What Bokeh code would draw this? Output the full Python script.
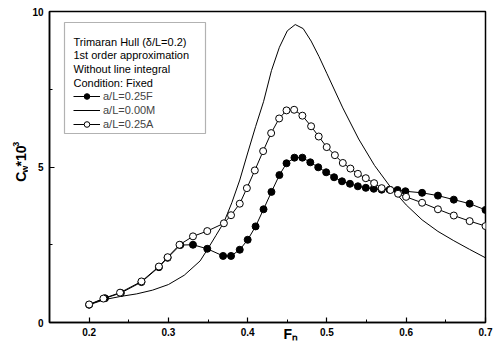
import math
from bokeh.plotting import figure
from bokeh.layouts import row
from bokeh.models import Label, Range1d, FixedTicker, BoxAnnotation, Legend, LegendItem
from bokeh.embed import file_html
from bokeh.resources import INLINE

# ---- data ----
f_x = [0.20, 0.22, 0.24, 0.266, 0.288, 0.299, 0.315, 0.331, 0.349, 0.369, 0.379, 0.390,
       0.400, 0.410, 0.420, 0.430, 0.440, 0.449, 0.459, 0.469, 0.479, 0.489, 0.499, 0.509,
       0.519, 0.529, 0.539, 0.549, 0.559, 0.569, 0.579, 0.589, 0.599, 0.62, 0.64, 0.66,
       0.68, 0.70]
f_y = [0.57, 0.78, 0.95, 1.30, 1.78, 2.08, 2.49, 2.50, 2.37, 2.14, 2.14, 2.34,
       2.66, 3.09, 3.64, 4.20, 4.74, 5.12, 5.30, 5.30, 5.15, 4.99, 4.83, 4.67,
       4.54, 4.46, 4.38, 4.33, 4.30, 4.27, 4.27, 4.26, 4.22, 4.17, 4.08, 3.95,
       3.82, 3.62]

m_x = [0.20, 0.22, 0.24, 0.26, 0.28, 0.30, 0.32, 0.34, 0.35, 0.36, 0.37, 0.38, 0.39,
       0.40, 0.41, 0.42, 0.43, 0.44, 0.45, 0.46, 0.47, 0.48, 0.49, 0.50, 0.52, 0.54,
       0.56, 0.58, 0.60, 0.62, 0.64, 0.66, 0.68, 0.70]
m_y = [0.57, 0.74, 0.84, 0.92, 1.04, 1.22, 1.52, 1.98, 2.38, 2.80, 3.22, 3.85, 4.58,
       5.45, 6.30, 7.10, 8.10, 8.85, 9.38, 9.58, 9.45, 9.05, 8.55, 8.00, 6.90, 5.90,
       5.05, 4.36, 3.78, 3.30, 2.93, 2.63, 2.35, 2.08]

a_x = [0.20, 0.218, 0.239, 0.266, 0.288, 0.299, 0.314, 0.331, 0.349, 0.370, 0.379, 0.390,
       0.399, 0.409, 0.4195, 0.4296, 0.4397, 0.449, 0.4586, 0.469, 0.480, 0.4896, 0.4997,
       0.510, 0.520, 0.5296, 0.539, 0.549, 0.5595, 0.569, 0.58, 0.5897, 0.5998, 0.62,
       0.64, 0.66, 0.68, 0.70]
a_y = [0.58, 0.77, 0.96, 1.32, 1.80, 2.10, 2.50, 2.77, 2.94, 3.19, 3.45, 3.82,
       4.32, 4.89, 5.51, 6.09, 6.56, 6.82, 6.84, 6.65, 6.31, 5.98, 5.64,
       5.38, 5.13, 4.95, 4.78, 4.64, 4.48, 4.32, 4.26, 4.14, 4.04, 3.85,
       3.64, 3.44, 3.26, 3.10]

x_ticks = [0.2, 0.3, 0.4, 0.5, 0.6, 0.7]
x_tick_labels = ["0.2", "0.3", "0.4", "0.5", "0.6", "0.7"]
x_minor = [0.25, 0.35, 0.45, 0.55, 0.65]
y_ticks = [0, 5, 10]
y_tick_labels = ["0", "5", "10"]
y_minor = [2.5, 7.5]

header_lines = ["Trimaran Hull (\u03b4/L=0.2)", "1st order approximation",
                "Without line integral", "Condition: Fixed"]
series_names = ["a/L=0.25F", "a/L=0.00M", "a/L=0.25A"]
x_title = "F\u2099"

FONT = "Liberation Sans"

# ---- layout ----
X0, X1, Y0, Y1 = 0.15, 0.70, 0.0, 10.0
TOTAL_W, H = 493, 347
YW = 28                      # strip holding the y-axis title
W = TOTAL_W - YW
ML, MR, MT, MB = 49 - YW, 8, 11, 25
FW, FH = W - ML - MR, H - MT - MB

p = figure(width=W, height=H, output_backend="svg", toolbar_location=None,
           x_range=Range1d(X0, X1), y_range=Range1d(Y0, Y1),
           min_border_left=ML, min_border_right=MR, min_border_top=MT,
           min_border_bottom=MB, background_fill_color="white",
           border_fill_color="white")
p.grid.visible = False
p.outline_line_color = "black"
p.outline_line_width = 1.5

# helpers: picture pixel -> data
def wx(px):
    return X0 + (px - YW - ML) / FW * (X1 - X0)

def wy(py):
    return Y1 - (py - MT) / FH * (Y1 - Y0)

for ax in (p.xaxis[0], p.yaxis[0]):
    ax.axis_line_width = 1.5
    ax.axis_line_color = "black"
    ax.major_tick_in = 5
    ax.major_tick_out = 0
    ax.minor_tick_in = 3
    ax.minor_tick_out = 0
    ax.major_tick_line_width = 1.2
    ax.major_label_text_font = FONT
    ax.major_label_text_font_style = "bold"
    ax.major_label_text_font_size = "10px"
    ax.major_label_text_color = "black"

p.xaxis.ticker = FixedTicker(ticks=x_ticks, minor_ticks=x_minor)
p.xaxis.major_label_overrides = {t: l for t, l in zip(x_ticks, x_tick_labels)}
p.xaxis.major_label_standoff = 5
p.yaxis.ticker = FixedTicker(ticks=y_ticks, minor_ticks=y_minor)
p.yaxis.major_label_overrides = {t: l for t, l in zip(y_ticks, y_tick_labels)}
p.yaxis.major_label_standoff = 6

# x-axis title, pulled up into the tick-label row and shifted right
p.xaxis.axis_label = "\u00a0" * 12 + x_title
p.xaxis.axis_label_text_font = FONT
p.xaxis.axis_label_text_font_style = "bold"
p.xaxis.axis_label_text_font_size = "14px"
p.xaxis.axis_label_text_color = "black"
p.xaxis.axis_label_standoff = -13

# ---- series ----
r_m = p.line(m_x, m_y, line_color="black", line_width=1)
r_f_line = p.line(f_x, f_y, line_color="black", line_width=1)
r_f_pts = p.scatter(f_x, f_y, marker="circle", size=7, fill_color="black",
                    line_color="black", line_width=1)
r_a_line = p.line(a_x, a_y, line_color="black", line_width=1)
r_a_pts = p.scatter(a_x, a_y, marker="circle", size=7, fill_color="white",
                    line_color="black", line_width=1)

# ---- legend box ----
p.add_layout(BoxAnnotation(left=wx(64), right=wx(205), top=wy(22), bottom=wy(133),
                           fill_color="white", fill_alpha=1.0,
                           line_color="black", line_width=1.2, level="annotation"))

row_h = 13.75
for i, t in enumerate(header_lines):
    p.add_layout(Label(x=wx(73), y=wy(41 + i * row_h), text=t, text_font=FONT,
                       text_font_size="11px", text_baseline="middle",
                       text_align="left", text_color="black", level="overlay"))

legend = Legend(items=[LegendItem(label=series_names[0], renderers=[r_f_line, r_f_pts]),
                       LegendItem(label=series_names[1], renderers=[r_m]),
                       LegendItem(label=series_names[2], renderers=[r_a_line, r_a_pts])],
                location=(73 - YW - ML, FH - (96 - MT - 7) - 3 * 14),
                glyph_width=27, glyph_height=14, label_height=14, spacing=0,
                padding=0, margin=0, label_standoff=3,
                label_text_font=FONT, label_text_font_size="11px",
                border_line_alpha=0, background_fill_alpha=0)
p.add_layout(legend, "center")

# ---- y-axis title strip (its own small figure, pixel coordinates) ----
yfig = figure(width=YW, height=H, output_backend="svg", toolbar_location=None,
              x_range=Range1d(0, YW), y_range=Range1d(H, 0),
              x_axis_location=None, y_axis_location=None,
              min_border_left=0, min_border_right=0, min_border_top=0,
              min_border_bottom=0, background_fill_color="white",
              border_fill_color="white")
yfig.grid.visible = False
yfig.outline_line_color = None

ang = math.pi / 2
y_title_parts = [("C", 190, 20, "14px"), ("w", 180, 24, "9px"),
                 ("*10", 173, 20, "14px"), ("3", 151, 15, "9px")]
for t, py, px, fs in y_title_parts:
    yfig.add_layout(Label(x=px, y=py, text=t, angle=ang, text_font=FONT,
                          text_font_style="bold", text_font_size=fs,
                          text_align="left", text_baseline="middle",
                          text_color="black"))

layout = row(yfig, p, spacing=0)
open("out.html", "w").write(file_html(layout, INLINE))
